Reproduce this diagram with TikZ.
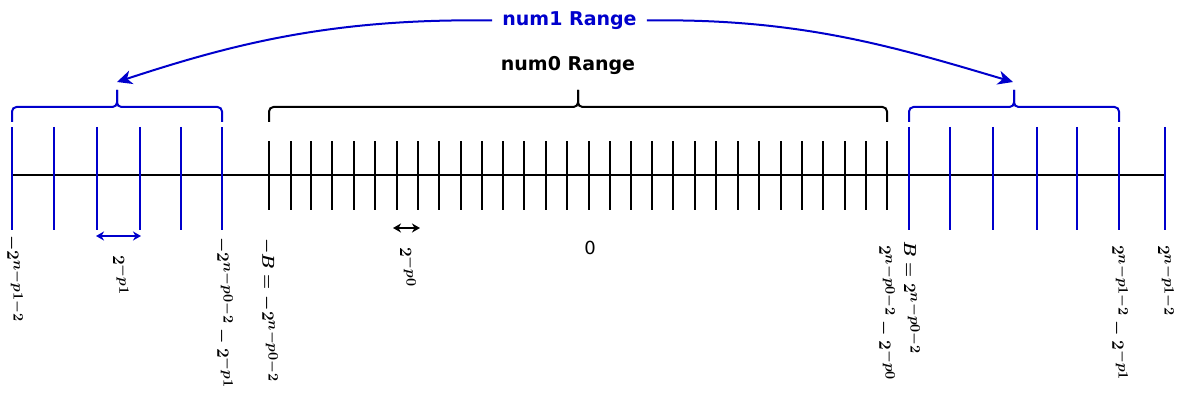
\documentclass[tikz,border=0pt]{standalone}
\usepackage{fontspec}
\newfontfamily\dvs{DejaVu Sans}
\usetikzlibrary{arrows.meta}
\DeclareMathSizes{17}{17}{14}{10}
\newcommand{\mn}{{-}}
\definecolor{nblue}{HTML}{0000CC}
\tikzset{
  axisline/.style={line width=2pt,black},
  btick/.style={line width=2pt,nblue},
  ktick/.style={line width=2pt,black},
  brc/.style={line width=2pt,rounded corners=4.5pt},
  bigarr/.style={line width=2pt,nblue,-{Stealth[length=15pt,width=14pt,inset=4.5pt]}},
  dbl/.style={line width=1.5pt,{Stealth[length=8pt,width=9pt,inset=2.5pt]}-{Stealth[length=8pt,width=9pt,inset=2.5pt]}},
  rlab/.style={rotate=-90,anchor=west,inner sep=0pt,font=\fontsize{17}{21}\selectfont\boldmath},
  ttl/.style={font=\dvs\bfseries\fontsize{19}{22}\selectfont,inner ysep=0pt,inner xsep=10pt}
}
\begin{document}
\begin{tikzpicture}[x=1pt,y=-1pt]
\useasboundingbox (0,0) rectangle (1177,393);
% axis
\coordinate (axL) at (12,175);
\coordinate (axR) at (1165,175);
\draw[axisline] (axL) -- (axR);
% blue ticks
\foreach \x in {12,54,97,140,181,222,909,950,993,1037,1077,1119,1165}
  \draw[btick] (\x,127) -- (\x,230);
% black ticks
\foreach \x in {269,291,311,332,354,375,397,418,439,461,482,503,524,546,567,589,610,631,652,673,695,716,738,759,781,802,823,845,866,887}
  \draw[ktick] (\x,141) -- (\x,210);
% braces
\draw[brc,nblue] (12,122) -- (12,107) -- (117,107) -- (117,90);
\draw[brc,nblue] (222,122) -- (222,107) -- (117,107) -- (117,90);
\draw[brc,black] (269,122) -- (269,107) -- (578,107) -- (578,90);
\draw[brc,black] (887,122) -- (887,107) -- (578,107) -- (578,90);
\draw[brc,nblue] (909,122) -- (909,107) -- (1014,107) -- (1014,90);
\draw[brc,nblue] (1119,122) -- (1119,107) -- (1014,107) -- (1014,90);
% titles
\node[ttl,text=nblue] (n1) at (569.5,20.5) {num1 Range};
\node[ttl,text=black] (n0) at (568,66) {num0 Range};
\coordinate (tipL) at (117,82);
\coordinate (tipR) at (1013,82);
\draw[bigarr] (n1.west) .. controls (330,18) and (230,45) .. (tipL);
\draw[bigarr] (n1.east) .. controls (800,18) and (895,47) .. (tipR);
% double arrows
\coordinate (a1) at (96,236);
\coordinate (a2) at (141,236);
\draw[dbl,nblue] (a1) -- (a2);
\coordinate (b1) at (393,228);
\coordinate (b2) at (420,228);
\draw[dbl,black] (b1) -- (b2);
% labels
\node[font=\dvs\fontsize{18}{21}\selectfont,inner sep=0pt] (zero) at (590,248) {0};
\node[rlab] (l1) at (14,235) {$-2^{n\mn p1\mn 2}$};
\node[rlab] (l2) at (121,255) {$2^{-p1}$};
\node[rlab] (l3) at (224,237) {$-2^{n\mn p0\mn 2} - 2^{-p1}$};
\node[rlab] (l4) at (269,238) {$-B = -2^{n\mn p0\mn 2}$};
\node[rlab] (l5) at (408,247) {$2^{-p0}$};
\node[rlab] (l6) at (886,245) {$2^{n\mn p0\mn 2} - 2^{-p0}$};
\node[rlab] (l7) at (912,241) {$B = 2^{n\mn p0\mn 2}$};
\node[rlab] (l8) at (1119,245) {$2^{n\mn p1\mn 2} -2^{-p1}$};
\node[rlab] (l9) at (1166,245) {$2^{n\mn p1\mn 2}$};
\end{tikzpicture}
\end{document}
